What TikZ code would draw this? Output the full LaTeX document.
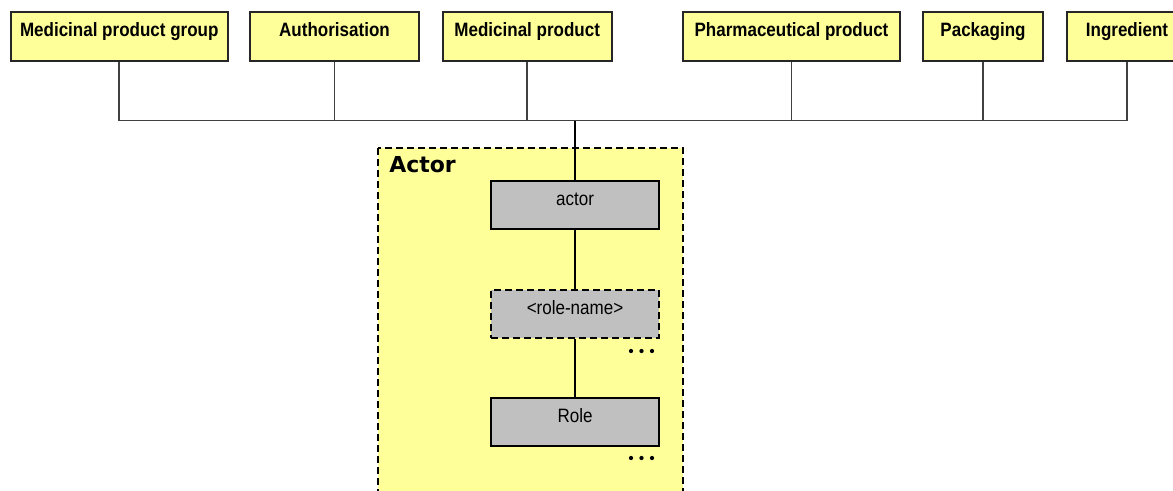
\documentclass[tikz,border=0pt]{standalone}
\usepackage{fontspec}
\newfontfamily\labfont{Liberation Sans}[FakeStretch=0.88]
\newfontfamily\titlefont{DejaVu Sans}
\definecolor{boxyellow}{HTML}{FFFF99}
\definecolor{boxgray}{HTML}{C0C0C0}
\definecolor{linegray}{HTML}{404040}
\tikzset{
  topbox/.style={draw=black!85, line width=1.5pt, fill=boxyellow, inner sep=0pt,
    text height=18pt, text depth=18.75pt, font=\labfont\bfseries\fontsize{14.5}{17}\selectfont},
  graybox/.style={draw=black, line width=1.5pt, fill=boxgray, inner sep=0pt,
    minimum width=126pt, text height=18pt, text depth=18pt,
    font=\labfont\fontsize{14.5}{17}\selectfont},
  dashbox/.style={graybox, dash pattern=on 5.25pt off 3pt},
  conn/.style={draw=linegray, line width=1.3pt},
  lowconn/.style={draw=black, line width=1.5pt},
  frame/.style={draw=black, line width=1.5pt, fill=boxyellow, dash pattern=on 5.25pt off 3pt},
}
\begin{document}
\begin{tikzpicture}[x=0.75pt, y=-0.75pt]
\clip (0,0) rectangle (1173,490);
\fill[white] (0,0) rectangle (1173,490);

% Actor frame
\draw[frame] (378,148) rectangle (683,510);
\node[anchor=base west, inner sep=0pt, font=\titlefont\bfseries\fontsize{16.5}{19}\selectfont] (title) at (389,172.5) {Actor};

% top boxes
\node[topbox, minimum width=163pt] (b1) at (119.25,36.5) {Medicinal product group};
\node[topbox, minimum width=126.75pt] (b2) at (334.5,36.5) {Authorisation};
\node[topbox, minimum width=126.75pt] (b3) at (527.2,36.5) {Medicinal product};
\node[topbox, minimum width=162.75pt] (b4) at (791.5,36.5) {Pharmaceutical product};
\node[topbox, minimum width=90.4pt] (b5) at (983,36.5) {Packaging};
\node[topbox, minimum width=90pt] (b6) at (1127,36.5) {Ingredient};

\coordinate (hub) at (575,120.5);

% gray boxes
\node[graybox] (actor) at (575,205) {actor};
\node[dashbox] (rolename) at (575,314) {<role-name>};
\node[graybox] (role) at (575,422) {Role};

% connectors
\foreach \b in {b1,b2,b3,b4,b5,b6}{
  \draw[conn] (\b.south) |- (hub);
}
\draw[lowconn, line width=2pt] (hub) -- (actor.north);
\draw[lowconn] (actor.south) -- (rolename.north);
\draw[lowconn] (rolename.south) -- (role.north);

% ellipsis dots
\foreach \y in {351,458}{
  \foreach \x in {631,641.5,652}{
    \fill[black] (\x,\y) circle (1.6pt);
  }
}
\end{tikzpicture}
\end{document}
